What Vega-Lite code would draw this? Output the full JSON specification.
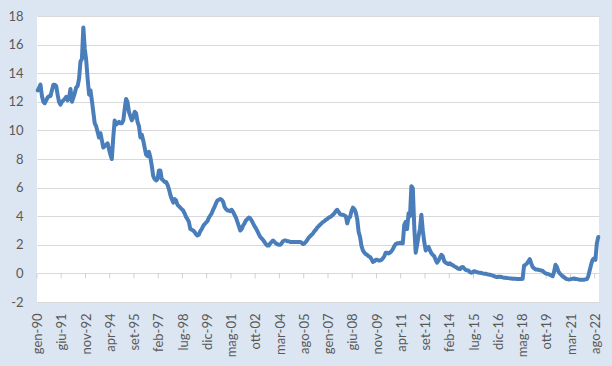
{
"$schema":"https://vega.github.io/schema/vega-lite/v6.json",
"width":562,"height":286,
"autosize":{"type":"none"},
"padding":{"left":37,"top":16,"right":13,"bottom":64},
"background":"#dce6f2",
"config":{"view":{"fill":"white","stroke":null},"font":"Lato"},
"datasets":{
"ticks":[{"m":"1990-01"},{"m":"1991-06"},{"m":"1992-11"},{"m":"1994-04"},{"m":"1995-09"},{"m":"1997-02"},{"m":"1998-07"},{"m":"1999-12"},{"m":"2001-05"},{"m":"2002-10"},{"m":"2004-03"},{"m":"2005-08"},{"m":"2007-01"},{"m":"2008-06"},{"m":"2009-11"},{"m":"2011-04"},{"m":"2012-09"},{"m":"2014-02"},{"m":"2015-07"},{"m":"2016-12"},{"m":"2018-05"},{"m":"2019-10"},{"m":"2021-03"},{"m":"2022-08"}],
"rates":[
{"m":"1990-01","v":12.8},{"m":"1990-02","v":13.0},{"m":"1990-03","v":13.2},{"m":"1990-04","v":12.4},{"m":"1990-05","v":12.0},{"m":"1990-06","v":11.9},{"m":"1990-07","v":12.1},{"m":"1990-08","v":12.3},{"m":"1990-09","v":12.4},{"m":"1990-10","v":12.4},{"m":"1990-11","v":12.8},{"m":"1990-12","v":13.2},
{"m":"1991-01","v":13.2},{"m":"1991-02","v":13.1},{"m":"1991-03","v":12.5},{"m":"1991-04","v":12.0},{"m":"1991-05","v":11.8},{"m":"1991-06","v":12.0},{"m":"1991-07","v":12.1},{"m":"1991-08","v":12.2},{"m":"1991-09","v":12.35},{"m":"1991-10","v":12.1},{"m":"1991-11","v":12.3},{"m":"1991-12","v":12.9},
{"m":"1992-01","v":12.0},{"m":"1992-02","v":12.3},{"m":"1992-03","v":12.6},{"m":"1992-04","v":13.0},{"m":"1992-05","v":13.1},{"m":"1992-06","v":13.6},{"m":"1992-07","v":14.8},{"m":"1992-08","v":15.0},{"m":"1992-09","v":17.2},{"m":"1992-10","v":15.7},{"m":"1992-11","v":14.9},{"m":"1992-12","v":13.6},
{"m":"1993-01","v":12.5},{"m":"1993-02","v":12.8},{"m":"1993-03","v":12.1},{"m":"1993-04","v":11.3},{"m":"1993-05","v":10.5},{"m":"1993-06","v":10.3},{"m":"1993-07","v":9.9},{"m":"1993-08","v":9.5},{"m":"1993-09","v":9.8},{"m":"1993-10","v":9.3},{"m":"1993-11","v":8.8},{"m":"1993-12","v":8.9},
{"m":"1994-01","v":9.0},{"m":"1994-02","v":9.1},{"m":"1994-03","v":8.7},{"m":"1994-04","v":8.3},{"m":"1994-05","v":8.0},{"m":"1994-06","v":9.5},{"m":"1994-07","v":10.7},{"m":"1994-08","v":10.4},{"m":"1994-09","v":10.5},{"m":"1994-10","v":10.6},{"m":"1994-11","v":10.5},{"m":"1994-12","v":10.5},
{"m":"1995-01","v":10.7},{"m":"1995-02","v":11.5},{"m":"1995-03","v":12.2},{"m":"1995-04","v":12.0},{"m":"1995-05","v":11.3},{"m":"1995-06","v":11.0},{"m":"1995-07","v":10.7},{"m":"1995-08","v":10.9},{"m":"1995-09","v":11.3},{"m":"1995-10","v":11.2},{"m":"1995-11","v":10.6},{"m":"1995-12","v":10.3},
{"m":"1996-01","v":9.5},{"m":"1996-02","v":9.7},{"m":"1996-03","v":9.3},{"m":"1996-04","v":8.8},{"m":"1996-05","v":8.3},{"m":"1996-06","v":8.2},{"m":"1996-07","v":8.5},{"m":"1996-08","v":8.1},{"m":"1996-09","v":7.5},{"m":"1996-10","v":6.8},{"m":"1996-11","v":6.6},{"m":"1996-12","v":6.5},
{"m":"1997-01","v":6.6},{"m":"1997-02","v":7.2},{"m":"1997-03","v":7.2},{"m":"1997-04","v":6.6},{"m":"1997-05","v":6.5},{"m":"1997-06","v":6.4},{"m":"1997-07","v":6.4},{"m":"1997-08","v":6.2},{"m":"1997-09","v":5.9},{"m":"1997-10","v":5.5},{"m":"1997-11","v":5.2},{"m":"1997-12","v":4.95},
{"m":"1998-01","v":5.2},{"m":"1998-02","v":5.1},{"m":"1998-03","v":4.8},{"m":"1998-04","v":4.7},{"m":"1998-05","v":4.6},{"m":"1998-06","v":4.5},{"m":"1998-07","v":4.4},{"m":"1998-08","v":4.2},{"m":"1998-09","v":3.95},{"m":"1998-10","v":3.8},{"m":"1998-11","v":3.6},{"m":"1998-12","v":3.1},
{"m":"1999-01","v":3.05},{"m":"1999-02","v":3.0},{"m":"1999-03","v":2.9},{"m":"1999-04","v":2.75},{"m":"1999-05","v":2.65},{"m":"1999-06","v":2.7},{"m":"1999-07","v":2.95},{"m":"1999-08","v":3.1},{"m":"1999-09","v":3.3},{"m":"1999-10","v":3.45},{"m":"1999-11","v":3.55},{"m":"1999-12","v":3.65},
{"m":"2000-01","v":3.9},{"m":"2000-02","v":4.05},{"m":"2000-03","v":4.2},{"m":"2000-04","v":4.45},{"m":"2000-05","v":4.65},{"m":"2000-06","v":4.9},{"m":"2000-07","v":5.1},{"m":"2000-08","v":5.15},{"m":"2000-09","v":5.2},{"m":"2000-10","v":5.15},{"m":"2000-11","v":5.0},{"m":"2000-12","v":4.65},
{"m":"2001-01","v":4.5},{"m":"2001-02","v":4.4},{"m":"2001-03","v":4.4},{"m":"2001-04","v":4.35},{"m":"2001-05","v":4.45},{"m":"2001-06","v":4.3},{"m":"2001-07","v":4.1},{"m":"2001-08","v":3.9},{"m":"2001-09","v":3.6},{"m":"2001-10","v":3.3},{"m":"2001-11","v":3.0},{"m":"2001-12","v":3.1},
{"m":"2002-01","v":3.35},{"m":"2002-02","v":3.5},{"m":"2002-03","v":3.7},{"m":"2002-04","v":3.8},{"m":"2002-05","v":3.9},{"m":"2002-06","v":3.85},{"m":"2002-07","v":3.7},{"m":"2002-08","v":3.5},{"m":"2002-09","v":3.3},{"m":"2002-10","v":3.15},{"m":"2002-11","v":2.95},{"m":"2002-12","v":2.75},
{"m":"2003-01","v":2.55},{"m":"2003-02","v":2.45},{"m":"2003-03","v":2.35},{"m":"2003-04","v":2.2},{"m":"2003-05","v":2.05},{"m":"2003-06","v":1.95},{"m":"2003-07","v":1.95},{"m":"2003-08","v":2.1},{"m":"2003-09","v":2.2},{"m":"2003-10","v":2.3},{"m":"2003-11","v":2.2},{"m":"2003-12","v":2.1},
{"m":"2004-01","v":2.05},{"m":"2004-02","v":2.0},{"m":"2004-03","v":2.0},{"m":"2004-04","v":2.1},{"m":"2004-05","v":2.25},{"m":"2004-06","v":2.3},{"m":"2004-07","v":2.3},{"m":"2004-08","v":2.25},{"m":"2004-09","v":2.25},{"m":"2004-10","v":2.2},{"m":"2004-11","v":2.2},{"m":"2004-12","v":2.2},
{"m":"2005-01","v":2.2},{"m":"2005-02","v":2.2},{"m":"2005-03","v":2.2},{"m":"2005-04","v":2.2},{"m":"2005-05","v":2.2},{"m":"2005-06","v":2.15},{"m":"2005-07","v":2.05},{"m":"2005-08","v":2.1},{"m":"2005-09","v":2.2},{"m":"2005-10","v":2.35},{"m":"2005-11","v":2.5},{"m":"2005-12","v":2.6},
{"m":"2006-01","v":2.7},{"m":"2006-02","v":2.8},{"m":"2006-03","v":2.95},{"m":"2006-04","v":3.05},{"m":"2006-05","v":3.2},{"m":"2006-06","v":3.3},{"m":"2006-07","v":3.4},{"m":"2006-08","v":3.5},{"m":"2006-09","v":3.6},{"m":"2006-10","v":3.65},{"m":"2006-11","v":3.75},{"m":"2006-12","v":3.8},
{"m":"2007-01","v":3.9},{"m":"2007-02","v":3.95},{"m":"2007-03","v":4.0},{"m":"2007-04","v":4.1},{"m":"2007-05","v":4.2},{"m":"2007-06","v":4.35},{"m":"2007-07","v":4.45},{"m":"2007-08","v":4.3},{"m":"2007-09","v":4.15},{"m":"2007-10","v":4.1},{"m":"2007-11","v":4.1},{"m":"2007-12","v":4.05},
{"m":"2008-01","v":4.0},{"m":"2008-02","v":3.5},{"m":"2008-03","v":3.85},{"m":"2008-04","v":3.95},{"m":"2008-05","v":4.35},{"m":"2008-06","v":4.6},{"m":"2008-07","v":4.5},{"m":"2008-08","v":4.25},{"m":"2008-09","v":3.8},{"m":"2008-10","v":2.9},{"m":"2008-11","v":2.55},{"m":"2008-12","v":1.9},
{"m":"2009-01","v":1.6},{"m":"2009-02","v":1.45},{"m":"2009-03","v":1.35},{"m":"2009-04","v":1.3},{"m":"2009-05","v":1.2},{"m":"2009-06","v":1.15},{"m":"2009-07","v":1.0},{"m":"2009-08","v":0.8},{"m":"2009-09","v":0.85},{"m":"2009-10","v":0.95},{"m":"2009-11","v":0.95},{"m":"2009-12","v":0.9},
{"m":"2010-01","v":0.9},{"m":"2010-02","v":0.95},{"m":"2010-03","v":1.05},{"m":"2010-04","v":1.2},{"m":"2010-05","v":1.45},{"m":"2010-06","v":1.45},{"m":"2010-07","v":1.4},{"m":"2010-08","v":1.45},{"m":"2010-09","v":1.55},{"m":"2010-10","v":1.7},{"m":"2010-11","v":1.9},{"m":"2010-12","v":2.05},
{"m":"2011-01","v":2.1},{"m":"2011-02","v":2.1},{"m":"2011-03","v":2.15},{"m":"2011-04","v":2.1},{"m":"2011-05","v":2.1},{"m":"2011-06","v":3.4},{"m":"2011-07","v":3.6},{"m":"2011-08","v":3.1},{"m":"2011-09","v":4.2},{"m":"2011-10","v":4.0},{"m":"2011-11","v":6.1},{"m":"2011-12","v":5.95},
{"m":"2012-01","v":3.2},{"m":"2012-02","v":1.45},{"m":"2012-03","v":2.0},{"m":"2012-04","v":2.6},{"m":"2012-05","v":3.1},{"m":"2012-06","v":4.1},{"m":"2012-07","v":3.0},{"m":"2012-08","v":2.2},{"m":"2012-09","v":1.6},{"m":"2012-10","v":1.8},{"m":"2012-11","v":1.85},{"m":"2012-12","v":1.6},
{"m":"2013-01","v":1.4},{"m":"2013-02","v":1.3},{"m":"2013-03","v":1.2},{"m":"2013-04","v":0.95},{"m":"2013-05","v":0.75},{"m":"2013-06","v":0.9},{"m":"2013-07","v":1.1},{"m":"2013-08","v":1.3},{"m":"2013-09","v":1.2},{"m":"2013-10","v":0.85},{"m":"2013-11","v":0.75},{"m":"2013-12","v":0.7},
{"m":"2014-01","v":0.65},{"m":"2014-02","v":0.7},{"m":"2014-03","v":0.62},{"m":"2014-04","v":0.58},{"m":"2014-05","v":0.5},{"m":"2014-06","v":0.45},{"m":"2014-07","v":0.38},{"m":"2014-08","v":0.32},{"m":"2014-09","v":0.3},{"m":"2014-10","v":0.42},{"m":"2014-11","v":0.45},{"m":"2014-12","v":0.35},
{"m":"2015-01","v":0.25},{"m":"2015-02","v":0.22},{"m":"2015-03","v":0.2},{"m":"2015-04","v":0.1},{"m":"2015-05","v":0.05},{"m":"2015-06","v":0.08},{"m":"2015-07","v":0.15},{"m":"2015-08","v":0.12},{"m":"2015-09","v":0.08},{"m":"2015-10","v":0.06},{"m":"2015-11","v":0.05},{"m":"2015-12","v":0.03},
{"m":"2016-01","v":0.0},{"m":"2016-02","v":-0.02},{"m":"2016-03","v":-0.03},{"m":"2016-04","v":-0.05},{"m":"2016-05","v":-0.08},{"m":"2016-06","v":-0.1},{"m":"2016-07","v":-0.12},{"m":"2016-08","v":-0.15},{"m":"2016-09","v":-0.2},{"m":"2016-10","v":-0.23},{"m":"2016-11","v":-0.25},{"m":"2016-12","v":-0.25},
{"m":"2017-01","v":-0.22},{"m":"2017-02","v":-0.25},{"m":"2017-03","v":-0.28},{"m":"2017-04","v":-0.3},{"m":"2017-05","v":-0.3},{"m":"2017-06","v":-0.32},{"m":"2017-07","v":-0.33},{"m":"2017-08","v":-0.35},{"m":"2017-09","v":-0.35},{"m":"2017-10","v":-0.37},{"m":"2017-11","v":-0.37},{"m":"2017-12","v":-0.38},
{"m":"2018-01","v":-0.4},{"m":"2018-02","v":-0.4},{"m":"2018-03","v":-0.4},{"m":"2018-04","v":-0.4},{"m":"2018-05","v":-0.38},{"m":"2018-06","v":0.55},{"m":"2018-07","v":0.6},{"m":"2018-08","v":0.7},{"m":"2018-09","v":0.85},{"m":"2018-10","v":1.0},{"m":"2018-11","v":0.7},{"m":"2018-12","v":0.45},
{"m":"2019-01","v":0.35},{"m":"2019-02","v":0.28},{"m":"2019-03","v":0.27},{"m":"2019-04","v":0.25},{"m":"2019-05","v":0.23},{"m":"2019-06","v":0.2},{"m":"2019-07","v":0.18},{"m":"2019-08","v":0.08},{"m":"2019-09","v":0.0},{"m":"2019-10","v":-0.02},{"m":"2019-11","v":-0.05},{"m":"2019-12","v":-0.1},
{"m":"2020-01","v":-0.15},{"m":"2020-02","v":-0.2},{"m":"2020-03","v":0.1},{"m":"2020-04","v":0.6},{"m":"2020-05","v":0.45},{"m":"2020-06","v":0.15},{"m":"2020-07","v":0.0},{"m":"2020-08","v":-0.1},{"m":"2020-09","v":-0.2},{"m":"2020-10","v":-0.27},{"m":"2020-11","v":-0.35},{"m":"2020-12","v":-0.4},
{"m":"2021-01","v":-0.42},{"m":"2021-02","v":-0.42},{"m":"2021-03","v":-0.4},{"m":"2021-04","v":-0.38},{"m":"2021-05","v":-0.35},{"m":"2021-06","v":-0.4},{"m":"2021-07","v":-0.4},{"m":"2021-08","v":-0.42},{"m":"2021-09","v":-0.44},{"m":"2021-10","v":-0.45},{"m":"2021-11","v":-0.45},{"m":"2021-12","v":-0.44},
{"m":"2022-01","v":-0.42},{"m":"2022-02","v":-0.4},{"m":"2022-03","v":-0.2},{"m":"2022-04","v":0.2},{"m":"2022-05","v":0.6},{"m":"2022-06","v":0.95},{"m":"2022-07","v":1.05},{"m":"2022-08","v":0.95},{"m":"2022-09","v":2.1},{"m":"2022-10","v":2.55}
]},
"layer":[
{"data":{"name":"ticks"},
 "mark":{"type":"tick","orient":"vertical","size":5,"thickness":1,"yOffset":2.5,"color":"#bfbfbf"},
 "encoding":{
  "x":{"field":"m","type":"temporal","timeUnit":"utcyearmonth","bandPosition":0,
   "scale":{"domain":[{"year":1990,"month":1,"date":1,"utc":true},{"year":2022,"month":11,"date":1,"utc":true}],"nice":false},
   "axis":{"title":null,"grid":false,"ticks":false,"domain":false,
    "values":[{"year":1990,"month":1,"date":16,"utc":true},{"year":1991,"month":6,"date":16,"utc":true},{"year":1992,"month":11,"date":16,"utc":true},{"year":1994,"month":4,"date":16,"utc":true},{"year":1995,"month":9,"date":16,"utc":true},{"year":1997,"month":2,"date":16,"utc":true},{"year":1998,"month":7,"date":16,"utc":true},{"year":1999,"month":12,"date":16,"utc":true},{"year":2001,"month":5,"date":16,"utc":true},{"year":2002,"month":10,"date":16,"utc":true},{"year":2004,"month":3,"date":16,"utc":true},{"year":2005,"month":8,"date":16,"utc":true},{"year":2007,"month":1,"date":16,"utc":true},{"year":2008,"month":6,"date":16,"utc":true},{"year":2009,"month":11,"date":16,"utc":true},{"year":2011,"month":4,"date":16,"utc":true},{"year":2012,"month":9,"date":16,"utc":true},{"year":2014,"month":2,"date":16,"utc":true},{"year":2015,"month":7,"date":16,"utc":true},{"year":2016,"month":12,"date":16,"utc":true},{"year":2018,"month":5,"date":16,"utc":true},{"year":2019,"month":10,"date":16,"utc":true},{"year":2021,"month":3,"date":16,"utc":true},{"year":2022,"month":8,"date":16,"utc":true}],
    "labelExpr":"['gen','feb','mar','apr','mag','giu','lug','ago','set','ott','nov','dic'][utcmonth(datum.value)] + '-' + utcFormat(datum.value, '%y')",
    "labelAngle":-90,"labelAlign":"right","labelBaseline":"middle","labelPadding":11,
    "labelFont":"Lato","labelFontSize":13,"labelColor":"#595959",
    "labelOverlap":false,"labelFlush":false,"labelBound":false}},
  "y":{"datum":0,"type":"quantitative",
   "scale":{"domain":[-2,18],"nice":false,"zero":false},
   "axis":{"title":null,"values":[-2,0,2,4,6,8,10,12,14,16,18],"domain":false,"ticks":false,
    "grid":true,"gridColor":"#d9d9d9","gridWidth":1,
    "labelExpr":"datum.value < 0 ? '-' + abs(datum.value) : '' + datum.value",
    "labelFont":"Lato","labelFontSize":13,"labelColor":"#595959","labelPadding":14}}
 }},
{"data":{"name":"rates"},
 "mark":{"type":"line","color":"#4a7ebb","strokeWidth":4,"strokeJoin":"round","strokeCap":"round"},
 "encoding":{
  "x":{"field":"m","type":"temporal","timeUnit":"utcyearmonth","bandPosition":0.5,
   "scale":{"domain":[{"year":1990,"month":1,"date":1,"utc":true},{"year":2022,"month":11,"date":1,"utc":true}],"nice":false},
   "axis":{"title":null,"grid":false,"ticks":false,"domain":false,
    "values":[{"year":1990,"month":1,"date":16,"utc":true},{"year":1991,"month":6,"date":16,"utc":true},{"year":1992,"month":11,"date":16,"utc":true},{"year":1994,"month":4,"date":16,"utc":true},{"year":1995,"month":9,"date":16,"utc":true},{"year":1997,"month":2,"date":16,"utc":true},{"year":1998,"month":7,"date":16,"utc":true},{"year":1999,"month":12,"date":16,"utc":true},{"year":2001,"month":5,"date":16,"utc":true},{"year":2002,"month":10,"date":16,"utc":true},{"year":2004,"month":3,"date":16,"utc":true},{"year":2005,"month":8,"date":16,"utc":true},{"year":2007,"month":1,"date":16,"utc":true},{"year":2008,"month":6,"date":16,"utc":true},{"year":2009,"month":11,"date":16,"utc":true},{"year":2011,"month":4,"date":16,"utc":true},{"year":2012,"month":9,"date":16,"utc":true},{"year":2014,"month":2,"date":16,"utc":true},{"year":2015,"month":7,"date":16,"utc":true},{"year":2016,"month":12,"date":16,"utc":true},{"year":2018,"month":5,"date":16,"utc":true},{"year":2019,"month":10,"date":16,"utc":true},{"year":2021,"month":3,"date":16,"utc":true},{"year":2022,"month":8,"date":16,"utc":true}],
    "labelExpr":"['gen','feb','mar','apr','mag','giu','lug','ago','set','ott','nov','dic'][utcmonth(datum.value)] + '-' + utcFormat(datum.value, '%y')",
    "labelAngle":-90,"labelAlign":"right","labelBaseline":"middle","labelPadding":11,
    "labelFont":"Lato","labelFontSize":13,"labelColor":"#595959",
    "labelOverlap":false,"labelFlush":false,"labelBound":false}},
  "y":{"field":"v","type":"quantitative",
   "scale":{"domain":[-2,18],"nice":false,"zero":false},
   "axis":{"title":null,"values":[-2,0,2,4,6,8,10,12,14,16,18],"domain":false,"ticks":false,
    "grid":true,"gridColor":"#d9d9d9","gridWidth":1,
    "labelExpr":"datum.value < 0 ? '-' + abs(datum.value) : '' + datum.value",
    "labelFont":"Lato","labelFontSize":13,"labelColor":"#595959","labelPadding":14}}
 }}
]
}
